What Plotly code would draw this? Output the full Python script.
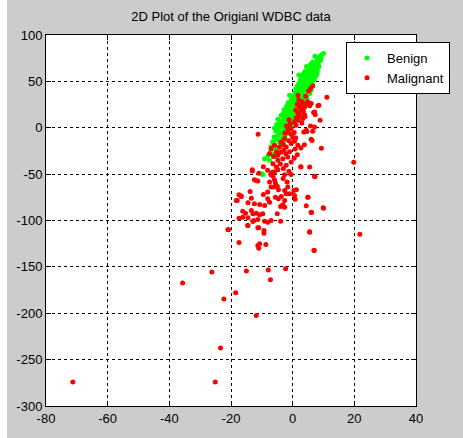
import plotly.graph_objects as go

TITLE = "2D Plot of the Origianl WDBC data"
X_TICKS = [-80, -60, -40, -20, 0, 20, 40]
Y_TICKS = [-300, -250, -200, -150, -100, -50, 0, 50, 100]

benign_x = [
    10, 9.5, 8.8, 9.2, 8, 7.2, 8.5, 9, 7.5, 6.5, 8.2, 5.8, 7, 8.5, 6, 5, 7.5, 4.5, 8, 6.8,
    5.5, 4, 7, 3.5, 6, 7.6, 2, 5, 4.5, 3, 6.5, 2.5, 5.5, 7, 4, 3.2, 6.2,
    2, 5, 3.8, 6.5, 1.5, 4.5, 2.8, 5.8, 1, 3.5,
    6, 2.2, 4.8, 0.8, 3, 5.5, 1.8, 4, 0.2, -1, 2.5,
    4.6, 1, 3.4, -0.5, 2, 4.2, 0.3, -1.5, 3, 1.2,
    -0.8, 2.5, 4, -2, 0.5, 3.2, -1.2, 1.5, -2.8, 2.5,
    0, -1.8, 1.2, -3, -0.5, 2, -2.2, 0.6, -3.7, -1,
    1.5, -4.8, -2.8, -0.2, -3.5, -1.6, 0.8, -4.2, -2.5, -5.2,
    -0.5, -3.3, -5.9, -1.8, -4.5, -2.8, -0.8, -5.5, -3.7, -1.6, -4.8, -2.5,
    -6, -3.5, -5, -2.6, -6.5, -4.2, -5.8, -3.4, -7, -5, -6.4, -4.6,
    -7.2, -6, -8, -5.5, -9.1, -7.5, -10, -9.7,
    8.9, 7.8, 6.2, 7.9, 5.2, 6.9, 4.2, 5.9, 3.6, 4.9, 2.9, 3.9, 1.6, 2.6, 0.4, 1.9,
    -0.9, 0.9, -2.4, -0.2, -3.9, -1.3, -4.6, -2.2, 6.6, 5.4, 4.1, 3.3, 2.1, 0.7, -1.4, -3.1,
]
benign_y = [
    80, 79, 77, 75, 74.5, 77, 72, 73, 70, 71, 69, 68.5, 67, 66, 65, 64, 63.5, 66, 62, 61,
    60, 61, 59, 58, 57.5, 56, 57, 56, 54, 55, 53, 52, 51.5, 52, 50, 49, 49.5,
    48, 47, 46, 47, 45, 44, 43.5, 44, 42, 41,
    41, 40, 39, 38, 37.5, 37, 36, 35, 34, 35, 33,
    32, 31, 30, 30, 29, 28.5, 28, 27, 26.5, 25.5,
    24.5, 24, 23, 23, 22.5, 21, 21, 20, 19.5, 18.5,
    18, 17, 16, 15.5, 15, 14, 13, 12.5, 13.5, 11,
    10, 9.1, 9.5, 8.5, 7, 6.5, 6, 5, 4, 3.5,
    2, 1.5, -0.2, 0, -1, -2.5, -3, -3.5, -6.3, -6.3, -8.1, -9,
    -10, -11.5, -13, -13.5, -15, -16, -18.5, -19, -20.5, -22, -22.5, -25,
    -26, -28.5, -30, -31, -33.3, -35, -49.5, -50.3,
    72.5, 68, 63, 58.5, 59.5, 54.5, 52.5, 48.5, 45.5, 40.5, 38.5, 33.5, 32.5, 27.5, 25, 21.5,
    16.5, 14.5, 11.5, 5.5, 3, 1, -5, -4.5, 64.5, 62.5, 55.5, 43, 39, 29.5, 20.5, 10.5,
]

malignant_x = [
    6.5, 5.8, 5.2, 11.1, 1.7, 4.2, 4.9, 6, 8.5, 5.5, 4.4, 8.2, 2.2, 3.3, 3.8, 5.5, 7.1, 2.7, 3.8, 3.3,
    1.7, 1.1, 6.8, 7.3, 8.9, 5.8, 7.1, 4.4, 6.5, 4.6, 3.6, 0.6, 1.1, -0.5, -1.6, 0, 0.6, 1.7, 2.7, 3.8,
    6, 6.3, 9.3, -2.6, -3.7, -4.3, -2.1, -5.9, -7, -5.3, -7.5, -4.8, -11.2, -3.2, -1.6, -0.5, -2.1, -6.4, -5.3, -4.8,
    2.7, 5.5, -8.1, -6.4, -4.8, -7, -13.1, 2.6, 7.2,
    2, 3, 1.5, 2.8, 3.5, 1, 2.2, 4, 1.8, 3, -1.2, -0.8, -2, -1.5, 0.5, -0.5, -2.5, 1, -1.2, -3,
    -0.5, 0.8, -2.8, -1, -3.8, -6.2, -2.2, 1.5, -4, -3, -1.2, 0.5, -9.5, -11,
    -13.1, -7, -6.4, -5.9, -2.6, -3.1, -0.5, 7.1, -5.6, -5, -6.1, -4.6, -7, -1.8, -1.6, -11.8, -13.8, -17.4, -16.7, -18,
    -13.4, -9.5, -8.1, -5.6, -4.6, -3.7, -2.6, -14.5, -12.4, -10.7, -9.1, -3.9, -3.2, -2.6, 0.8, 4.9, 4.4, 10, -16.2, -15.3,
    -13.4, -12.9, -11.8, -10.7, -9.7, -17.4, -16.2, -14.5, -12.6, -11.3, -9.1, -8.1, -7, -5, -3.9, -20.8, -14.5, -11, -9.3, -9.3,
    5.5, -7.5, -5.9, 0.4, 0.6, -2.6, -2.1, -8.1, -7.5, -12.4, -11.3, 1.2, -1, 6, -18.3, -16.7, 5, 6.1, 9.9,
    -17.4, -10.7, -11, -8.7, 7, -26.2, -15, -7.9, -2.3, -7.2, -18.5, -22.3, -11.8, -14.6, -12.9, -11.3, -35.7, -23.4, -25.1, -71.3,
    19.8, 21.8, 5.5, 6.9, -21, -11.3,
]
malignant_y = [
    44.9, 42.4, 39.5, 33, 35.1, 34, 27.9, 26.2, 24.3, 26.2, 26.2, 23.6, 22.5, 20.8, 22.5, 23.6, 17.1, 17.8, 14.3, 10,
    15.4, 10.6, 16.4, 14.3, 8.1, 1.9, 0.9, -2.7, -3.8, -4.1, -4.5, 6.3, 2.7, -0.9, -4.5, -9.9, -14.6, -18.9, -21.8, -18.2,
    -12.4, -13.8, -22.2, -11.7, -15.3, -20.8, -20.8, -18.9, -22.5, -26.2, -27.9, -29.7, -7, -33.3, -31.6, -37, -40.5, -38.7, -42.4, -35.1,
    -42.4, -42.4, -45.9, -47.8, -45.2, -50.6, -45.2, -42, -52.8,
    30, 28, 25, 24.5, 18, 19, 13, 12, 8, 5, 8.5, 4, 2, -1.5, -5, -7, -6, -11, -14, -18,
    -17, -23, -24, -26, -26.5, -31, -28, -29, -39, -44, -47, -33, -42, -49,
    -46.7, -49.5, -52.4, -47.8, -50.6, -54.6, -50.3, -52.4, -59.7, -63.2, -64, -66.8, -64, -58.6, -64, -56.8, -68.6, -72.2, -74, -78.4,
    -75.9, -71.9, -69.4, -74.8, -76.5, -74, -78.4, -80.9, -81.9, -82.7, -83.8, -84.9, -83, -85.6, -77, -74.8, -84.1, -86.7, -90, -92.1,
    -89.2, -92.8, -92.1, -93.8, -92.8, -97.5, -96.4, -97, -100, -98.9, -100.7, -101.8, -100, -92.8, -100.7, -110, -105.4, -107.9, -110.8, -113.7,
    -112.2, -58.6, -56, -67.6, -73, -67.6, -71.1, -76.5, -80.2, -56, -57.5, -66.8, -71.1, -91, -78.4, -73.7, -74.8, -91.3, -86.3,
    -123.8, -125.2, -130, -126, -132, -155.5, -154.4, -153.3, -151.9, -163.8, -177.8, -184.7, -202.4, -105.4, -101, -107.9, -167.4, -237.6, -274, -274,
    -37.3, -114.8, -112.6, -132.4, -109.7, -127,
]

W, H = 463, 438
L, R, T, B = 46, 47, 35, 32
GRAY = "#cccccc"
FONT = "Liberation Sans, Arial, sans-serif"

fig = go.Figure()
fig.add_trace(go.Scatter(x=benign_x, y=benign_y, mode="markers", name="Benign",
                         marker=dict(color="#00ff00", size=5, line=dict(width=0))))
fig.add_trace(go.Scatter(x=malignant_x, y=malignant_y, mode="markers", name="Malignant",
                         marker=dict(color="#ff0000", size=5, line=dict(width=0))))

axis_common = dict(
    showline=True, mirror="ticks", linecolor="black", linewidth=1,
    ticks="inside", ticklen=5, tickcolor="black", tickwidth=1,
    showgrid=True, gridcolor="black", gridwidth=1, griddash="3px,3px",
    zeroline=False, automargin=False,
    tickfont=dict(family=FONT, size=13, color="black"),
)
fig.update_xaxes(range=[-80, 40], tickvals=X_TICKS, ticktext=[str(v) for v in X_TICKS], **axis_common)
fig.update_yaxes(range=[-300, 100], tickvals=Y_TICKS, ticktext=[str(v) for v in Y_TICKS], **axis_common)

pw, ph = W - L - R, H - T - B
fig.add_shape(type="rect", xref="paper", yref="paper",
              x0=-L / pw - 0.01, x1=(7 - L) / pw, y0=-B / ph - 0.01, y1=(H - B) / ph + 0.01,
              fillcolor="white", line=dict(width=0), layer="below")

fig.update_layout(
    width=W, height=H,
    margin=dict(l=L, r=R, t=T, b=B, autoexpand=False),
    paper_bgcolor=GRAY, plot_bgcolor="white",
    title=dict(text=TITLE, x=(46 + 416) / 2 / W, xanchor="center", y=1 - 16 / H, yanchor="middle",
               yref="container", font=dict(family=FONT, size=13, color="black")),
    legend=dict(x=(346 - L) / pw, y=(H - B - 42) / ph, xanchor="left", yanchor="top",
                bgcolor="white", bordercolor="black", borderwidth=1,
                font=dict(family=FONT, size=13, color="black"), tracegroupgap=0),
    showlegend=True,
)

fig.write_html("out.html", config={"displayModeBar": False},
               post_script="document.body.style.margin='0';")
